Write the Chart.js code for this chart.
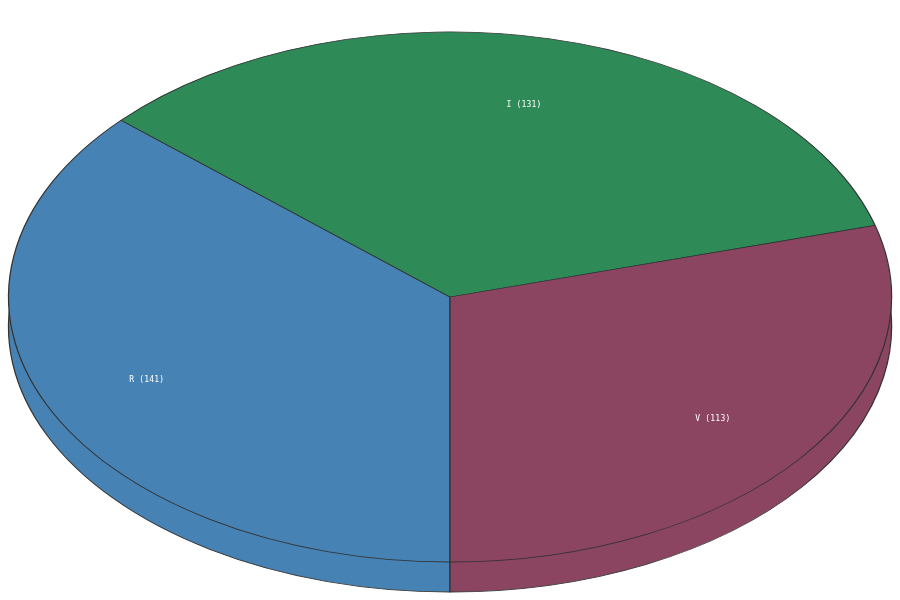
<!DOCTYPE html>
<html>
<head>
<meta charset="utf-8">
<title>Pie</title>
<script src="https://cdn.jsdelivr.net/npm/chart.js@4"></script>
<style>
  html, body { margin: 0; padding: 0; background: #fff; }
  canvas { display: block; }
</style>
</head>
<body>
<canvas id="pita" width="900" height="600"></canvas>
<script>
const kategorije = ['R', 'I', 'V'];
const vrijednosti = [141, 131, 113];
const boje = ['#4682B4', '#2E8B57', '#8B4560'];

// the pie is tilted: circle squashed to an ellipse, with a rim below it
const sredinaX = 450, sredinaY = 297;
const radijusX = 441.5, radijusY = 265;
const dubina = 30;

function nagni(ctx, chart, pomak) {
    const luk = chart.getDatasetMeta(0).data[0];
    ctx.translate(sredinaX, sredinaY + pomak);
    ctx.scale(radijusX / luk.outerRadius, radijusY / luk.outerRadius);
    ctx.translate(-luk.x, -luk.y);
}

const nagibPlugin = {
    id: 'nagib',
    beforeDatasetsDraw(chart) {
        const ctx = chart.ctx;
        ctx.save();
        nagni(ctx, chart, dubina);
        chart.getDatasetMeta(0).data.forEach(luk => luk.draw(ctx));
        ctx.restore();
        ctx.save();
        nagni(ctx, chart, 0);
    },
    afterDatasetsDraw(chart) {
        const ctx = chart.ctx;
        ctx.restore();
        ctx.save();
        ctx.font = '8px "DejaVu Sans Mono"';
        ctx.letterSpacing = '0.2px';
        ctx.fillStyle = '#fff';
        ctx.textAlign = 'center';
        ctx.textBaseline = 'middle';
        chart.getDatasetMeta(0).data.forEach((luk, i) => {
            const ugao = (luk.startAngle + luk.endAngle) / 2;
            const x = sredinaX + Math.cos(ugao) * radijusX * 0.75 - 1;
            const y = sredinaY + Math.sin(ugao) * radijusY * 0.75 + 2;
            ctx.fillText(`${kategorije[i]} (${vrijednosti[i]})`, x, y);
        });
        ctx.restore();
    }
};

new Chart(document.getElementById('pita').getContext('2d'), {
    type: 'pie',
    data: {
        labels: kategorije,
        datasets: [{
            data: vrijednosti,
            backgroundColor: boje,
            borderColor: '#333333',
            borderWidth: 0.85,
            borderAlign: 'center',
            clip: false
        }]
    },
    options: {
        responsive: false,
        animation: false,
        rotation: 180,
        plugins: {
            legend: { display: false },
            tooltip: { enabled: false }
        }
    },
    plugins: [nagibPlugin]
});
</script>
</body>
</html>
